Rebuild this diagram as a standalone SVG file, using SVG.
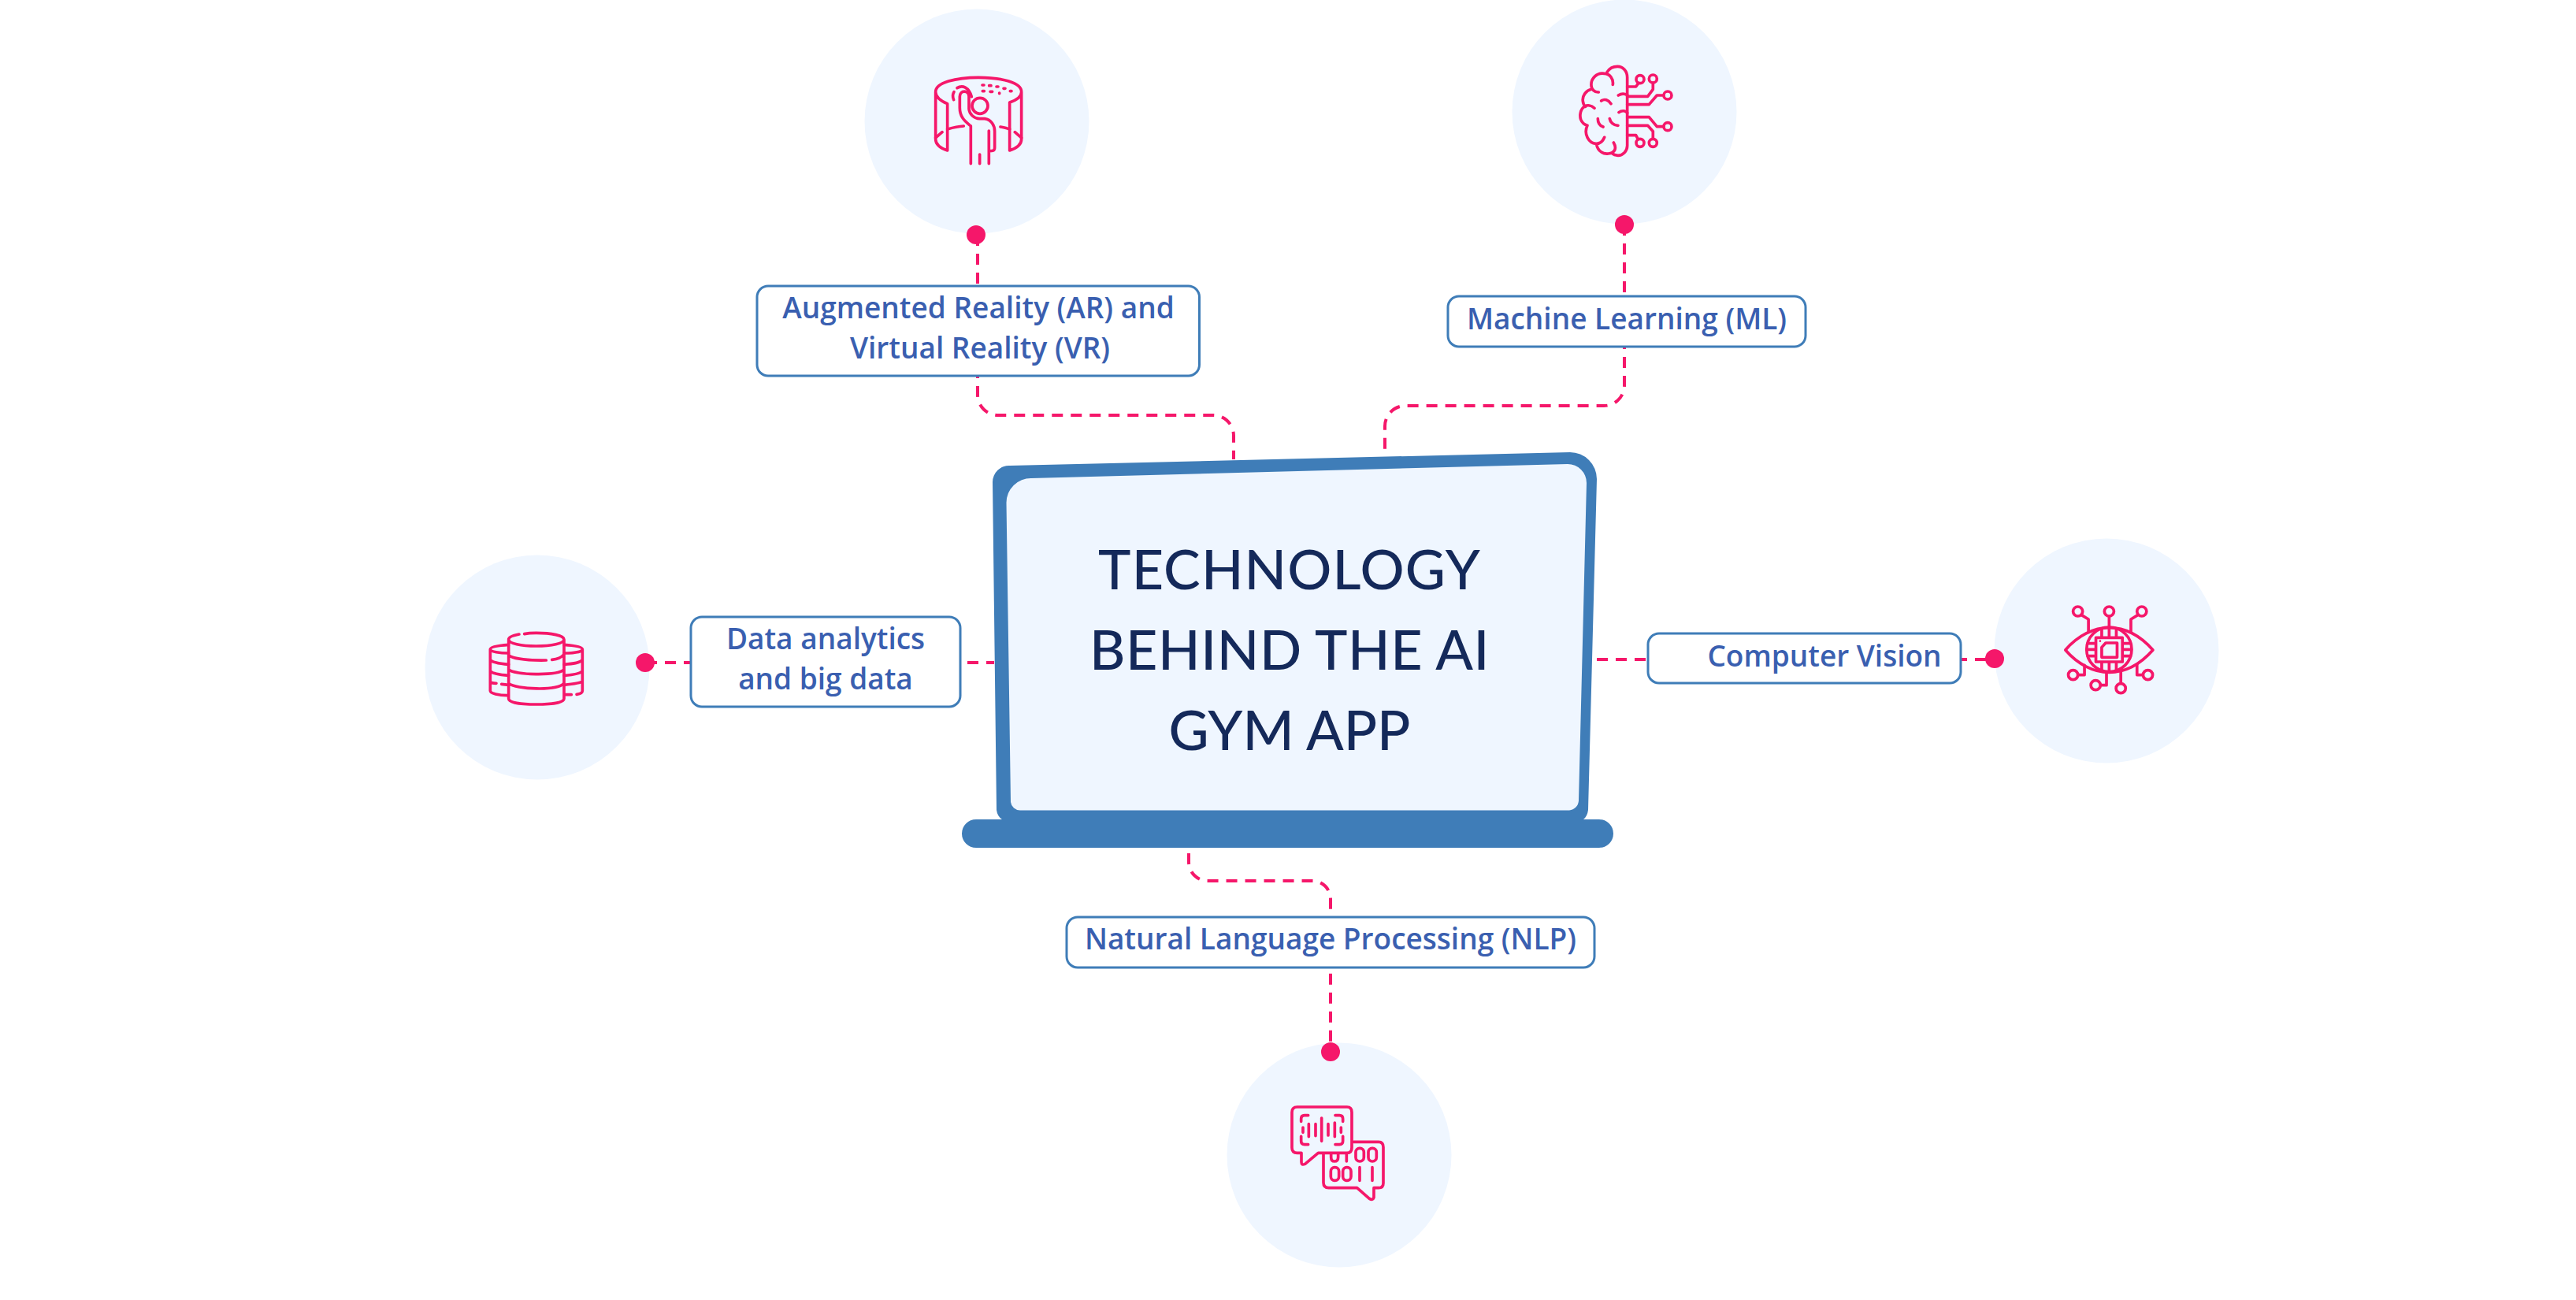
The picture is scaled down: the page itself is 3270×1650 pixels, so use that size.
<svg xmlns="http://www.w3.org/2000/svg" width="3270" height="1650" viewBox="0 0 3270 1650">
<style>
.bg{fill:#eff6ff}
.ic{fill:none;stroke:#f5176a;stroke-width:11;stroke-linecap:round;stroke-linejoin:round}
.dot{fill:#f5176a}
.con{fill:none;stroke:#f5176a;stroke-width:4;stroke-dasharray:14 10}
.box{fill:#fff;stroke:#3f7db8;stroke-width:3}
.lb{font-family:"Open Sans","Noto Sans",sans-serif;font-weight:550;font-size:37px;fill:#3a5fb0;text-anchor:middle}
.tt{font-family:Lato,"Noto Sans",sans-serif;font-weight:500;font-size:70px;fill:#14295a;text-anchor:middle}
</style>
<rect width="3270" height="1650" fill="#fff"/>
<g id="connectors">
<path class="con" d="M1241 298V500A26 26 0 0 0 1267 527H1541A26 26 0 0 1 1566 553V583"/>
<path class="con" d="M2062 285V490A26 26 0 0 1 2036 515H1783A26 26 0 0 0 1758 541V575"/>
<path class="con" d="M1509 1083V1094A24 24 0 0 0 1533 1118H1666A23 23 0 0 1 1689 1141V1335"/>
<path class="con" d="M820 841H1262"/>
<path class="con" d="M2027 837H2532"/>
</g>
<g id="laptop">
<path fill="#3f7db8" d="M1282 591L1993 574A34 34 0 0 1 2027 608L2016 1028Q2015 1036 2010 1040H2030A18 18 0 0 1 2030 1076H1239A18 18 0 0 1 1239 1040H1272Q1266 1036 1265 1028L1260 612A21 21 0 0 1 1282 591Z"/>
<path fill="#eff6ff" d="M1309 607L1990 589A24 24 0 0 1 2014 613L2004 1016A13 13 0 0 1 1992 1028.500H1295A12 12 0 0 1 1283 1018L1277.500 638A31 31 0 0 1 1309 607Z"/>
<text class="tt" x="1637" y="748" letter-spacing="1.100">TECHNOLOGY</text>
<text class="tt" x="1637" y="850" letter-spacing=".6">BEHIND THE AI</text>
<text class="tt" x="1637" y="952">GYM APP</text>
</g>
<g id="node-ar">
<circle class="bg" cx="1240" cy="154" r="142.500"/>
<g transform="translate(1080 0) scale(.3333)">
<path class="ic" d="M323 350C323 315 400 295 486 295C575 295 650 315 650 350V530C650 550 628 565 605 573V390C628 382 650 370 650 350M323 350V530C323 550 345 565 368 573V395C345 385 323 370 323 350"/>
<path class="ic" d="M323 525L348 503M368 492C385 487 410 481 430 480M650 525L625 503M605 492C595 488 580 485 570 483"/>
<circle class="ic" cx="492" cy="403" r="30"/>
<path class="ic" d="M457 623V480C440 465 415 450 415 410V368C415 342 450 342 450 368V415C452 435 470 452 490 452H510C535 455 548 478 548 500V562C548 575 540 575 527 575M526 498V623M491 588V623"/>
<path class="ic" d="M392 380C387 368 388 358 393 350M405 335C425 322 450 332 460 368"/>
<path class="ic" d="M501 324H507M527 326H534M555 330H561M582 337H588M607 347H612M502 347H508M531 349H539M566 354V356"/>
</g>
<rect class="box" x="961" y="363" width="561.500" height="114" rx="14"/>
<text class="lb" x="1242" y="404">Augmented Reality (AR) and</text>
<text class="lb" x="1244" y="455">Virtual Reality (VR)</text>
<circle class="dot" cx="1239" cy="298" r="12"/>
</g>
<g id="node-ml">
<circle class="bg" cx="2062" cy="142" r="142.500"/>
<g transform="translate(1900 0) scale(.3333)">
<path class="ic" d="M442 322C445 300 430 280 410 280C380 275 358 300 360 325C360 340 372 352 388 351M420 275C430 258 445 253 460 253C482 253 497 272 497 295V555C497 575 480 592 462 592C452 592 445 590 438 583M360 340C340 345 325 365 328 385C329 395 333 402 338 406M372 412C360 400 345 400 335 405C318 415 315 440 320 455C325 468 335 475 345 478C330 510 350 545 378 547C395 548 405 535 410 523M380 550C385 575 405 588 425 585C450 582 458 565 445 543"/>
<path class="ic" d="M463 363C475 355 485 355 497 362M398 384C410 375 425 380 435 395M465 428C475 420 490 420 497 430M385 452C385 465 392 478 405 483M430 452C432 465 445 478 462 478"/>
<path class="ic" d="M497 330H530L540 316M595 316V340L575 367H497M635 363H610L580 398H497M635 482H610L580 446H497M595 528V500L575 478H497M497 515H530L538 530"/>
<circle class="ic" cx="546" cy="302" r="15"/><circle class="ic" cx="595" cy="300" r="15"/><circle class="ic" cx="651" cy="363" r="15"/><circle class="ic" cx="651" cy="482" r="15"/><circle class="ic" cx="595" cy="544" r="15"/><circle class="ic" cx="546" cy="544" r="15"/>
</g>
<rect class="box" x="1838" y="376" width="454" height="64" rx="14"/>
<text class="lb" x="2065" y="418">Machine Learning (ML)</text>
<circle class="dot" cx="2062" cy="285" r="12"/>
</g>
<g id="node-data">
<circle class="bg" cx="682" cy="847" r="142.500"/>
<g transform="translate(560 740) scale(.3333)">
<path class="ic" d="M297 195C270 200 257 207 257 215C257 230 305 240 362 240C420 240 468 230 468 215C468 200 420 190 362 190C345 190 330 191 317 194M257 215V440C257 455 305 462 362 462C420 462 468 455 468 440V215M257 275C275 290 340 295 400 294M422 292C440 290 460 282 468 272M257 330C280 350 440 355 468 330M257 382C285 405 440 412 468 382"/>
<path class="ic" d="M257 235C215 238 187 243 187 252C187 262 225 267 257 267M187 252V410C187 420 220 428 252 428M187 292C195 305 230 308 257 310M187 335C195 345 230 350 257 352M187 375C190 380 200 382 210 382M230 385L257 388"/>
<path class="ic" d="M468 235C510 238 538 243 538 252C538 262 505 267 468 267M538 252V410C538 418 530 422 516 424M496 425H474M538 292C530 305 500 308 468 310M538 335C530 345 500 350 468 352M538 375C530 382 500 385 468 388"/>
</g>
<rect class="box" x="877" y="783" width="342" height="114" rx="14"/>
<text class="lb" x="1048" y="824">Data analytics</text>
<text class="lb" x="1048" y="875">and big data</text>
<circle class="dot" cx="819" cy="841" r="12"/>
</g>
<g id="node-cv">
<circle class="bg" cx="2674" cy="826" r="142.500"/>
<g transform="translate(2540 720) scale(.3367 .3333)">
<path class="ic" d="M243 315C290 260 350 230 408 230C470 230 525 260 573 315C525 370 470 400 408 400C350 400 290 370 243 315Z"/>
<circle class="ic" cx="408" cy="313" r="85"/>
<path class="ic" stroke-linecap="butt" d="M358 268H458V360H358ZM380 305L395 288H438V343H380ZM380 235V268M408 187V268M435 235V268M380 360V392M408 360V398M435 360V392M327 290H358M325 313H358M327 338H358M458 290H489M458 313H491M458 338H489"/>
<circle class="dot" cx="374" cy="281" r="4"/>
<path class="ic" d="M304 182L330 198V246M516 182L490 198V246M292 410H315V373M376 449H398V400M452 442V397M535 410H513V370"/>
<circle class="ic" cx="290" cy="168" r="18"/><circle class="ic" cx="408" cy="168" r="18"/><circle class="ic" cx="531" cy="168" r="18"/><circle class="ic" cx="272" cy="410" r="18"/><circle class="ic" cx="357" cy="449" r="18"/><circle class="ic" cx="452" cy="461" r="18"/><circle class="ic" cx="554" cy="410" r="18"/>
</g>
<rect class="box" x="2092" y="804" width="397" height="63" rx="14"/>
<text class="lb" x="2316" y="846">Computer Vision</text>
<circle class="dot" cx="2532" cy="836" r="12"/>
</g>
<g id="node-nlp">
<circle class="bg" cx="1700" cy="1466" r="142.500"/>
<g transform="translate(1590 1360) scale(.3333)">
<path class="ic" d="M170 135H360Q378 135 378 155V290Q378 310 360 310H250L200 352Q186 358 186 345V310H170Q150 310 150 290V155Q150 135 170 135Z"/>
<path class="ic" d="M385 268H480Q498 268 498 288V425Q498 443 480 443H462V480Q458 492 445 484L398 443H290Q270 443 270 423V315"/>
<path class="ic" d="M212 167H198Q185 167 185 180V190M315 167H331Q344 167 344 180V190M185 247V265Q185 278 198 278H212M344 247V265Q344 278 331 278H315M192 213V232M214 200V248M240 200V245M263 177V265M288 200V243M313 195V248M337 213V232"/>
<path class="ic" d="M299 316V326Q299 342 312 342Q326 342 326 326V316M358 312V342M408 365V415M456 365V415"/>
<rect class="ic" x="393" y="292" width="31" height="50" rx="15"/><rect class="ic" x="441" y="292" width="31" height="50" rx="15"/><rect class="ic" x="298" y="365" width="31" height="50" rx="15"/><rect class="ic" x="344" y="365" width="31" height="50" rx="15"/>
</g>
<rect class="box" x="1354" y="1164" width="670" height="64" rx="14"/>
<text class="lb" x="1689" y="1205">Natural Language Processing (NLP)</text>
<circle class="dot" cx="1689" cy="1335" r="12"/>
</g>
</svg>
